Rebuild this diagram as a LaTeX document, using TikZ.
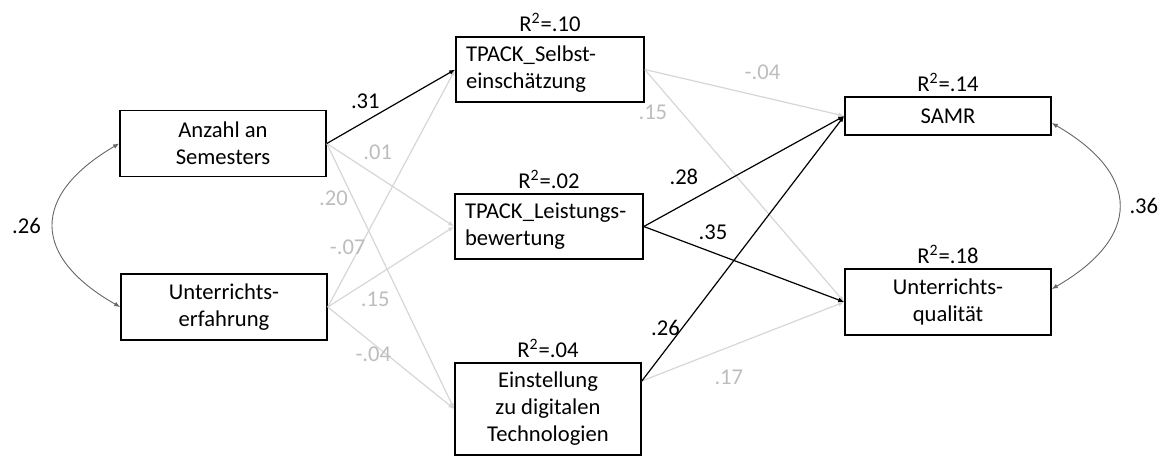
\documentclass[tikz,border=0pt]{standalone}
\usepackage{fontspec}
\setmainfont{Carlito}
\usetikzlibrary{arrows.meta,positioning,calc}

\begin{document}
\begin{tikzpicture}[x=0.5pt,y=-0.5pt,
var/.style={draw,line width=0.8pt,align=center,minimum height=33pt,minimum width=103pt,inner sep=2pt},
tpack/.style={var,align=left,text width=84pt,minimum width=0pt,minimum height=32.5pt,inner xsep=5pt},
rsq/.style={inner sep=2pt},
flow/.style={-{Latex[length=3pt,width=2.4pt]},line width=0.6pt},
weak/.style={flow,draw=black!16},
cov/.style={{Latex[length=3pt,width=2.4pt]}-{Latex[length=3pt,width=2.4pt]},line width=0.45pt,draw=black!60},
coef/.style={inner sep=1pt},
faint/.style={coef,text=black!26},
every node/.style={font=\fontsize{11.3}{13.5}\selectfont}]
\useasboundingbox (0,0) rectangle (1166,456);
% exogenous variables
\node[var] (anzahl) at (223,143.5) {Anzahl an\\Semesters};
\node[var] (erfahrung) at (224,307) {Unterrichts-\\erfahrung};
% mediators
\node[tpack,label={[rsq]above:R\textsuperscript{2}=.10}] (selbst) at (550,69.5) {TPACK\_Selbst-\\einschätzung};
\node[tpack,label={[rsq]above:R\textsuperscript{2}=.02}] (leistung) at (549,226.5) {TPACK\_Leistungs-\\bewertung};
\node[var,minimum width=93pt,minimum height=46pt,label={[rsq]above:R\textsuperscript{2}=.04}] (einstellung) at (548,409) {Einstellung\\zu digitalen\\Technologien};
% outcomes
\node[var,minimum height=19pt,label={[rsq]above:R\textsuperscript{2}=.14}] (samr) at (948,116) {SAMR};
\node[var,label={[rsq]above:R\textsuperscript{2}=.18}] (qualitaet) at (948,302) {Unterrichts-\\qualität};
\coordinate (einst-out) at ([yshift=14pt]einstellung.east);
% weak paths
\draw[weak] (anzahl.east) -- node[faint,pos=.4,yshift=12.3pt]{.01} (leistung.west);
\draw[weak] (anzahl.east) -- node[faint,pos=.205,xshift=-9.7pt]{.20} (einstellung.west);
\draw[weak] (erfahrung.east) -- node[faint,pos=.25,xshift=-6pt]{-.07} (selbst.west);
\draw[weak] (erfahrung.east) -- node[faint,pos=.375,yshift=-11pt]{.15} (leistung.west);
\draw[weak] (erfahrung.east) -- node[faint,pos=.36,yshift=-5.5pt]{-.04} (einstellung.west);
\draw[weak] (selbst.east) -- node[faint,pos=.59,yshift=12.5pt]{-.04} (samr.west);
\draw[weak] (selbst.east) -- node[faint,pos=.186,xshift=-14.5pt]{.15} (qualitaet.west);
\draw[weak] (einst-out) -- node[faint,pos=.43,yshift=-15pt]{.17} (qualitaet.west);
% significant paths
\draw[flow] (anzahl.east) -- node[coef,pos=.3,yshift=10pt]{.31} (selbst.west);
\draw[flow] (leistung.east) -- node[coef,pos=.2,yshift=13.7pt]{.28} (samr.west);
\draw[flow] (leistung.east) -- node[coef,pos=.345,yshift=10.2pt]{.35} (qualitaet.west);
\draw[flow] (einst-out) -- node[coef,pos=.2,xshift=-8.4pt]{.26} (samr.west);
% correlations
\draw[cov] (anzahl.west) to[bend right=60,looseness=1.6] node[coef,left=5pt]{.26} (erfahrung.west);
\draw[cov] ([yshift=-3.5pt]samr.east) to[bend left=60,looseness=1.6] node[coef,right=4pt]{.36} ([yshift=6.5pt]qualitaet.east);
\end{tikzpicture}
\end{document}
